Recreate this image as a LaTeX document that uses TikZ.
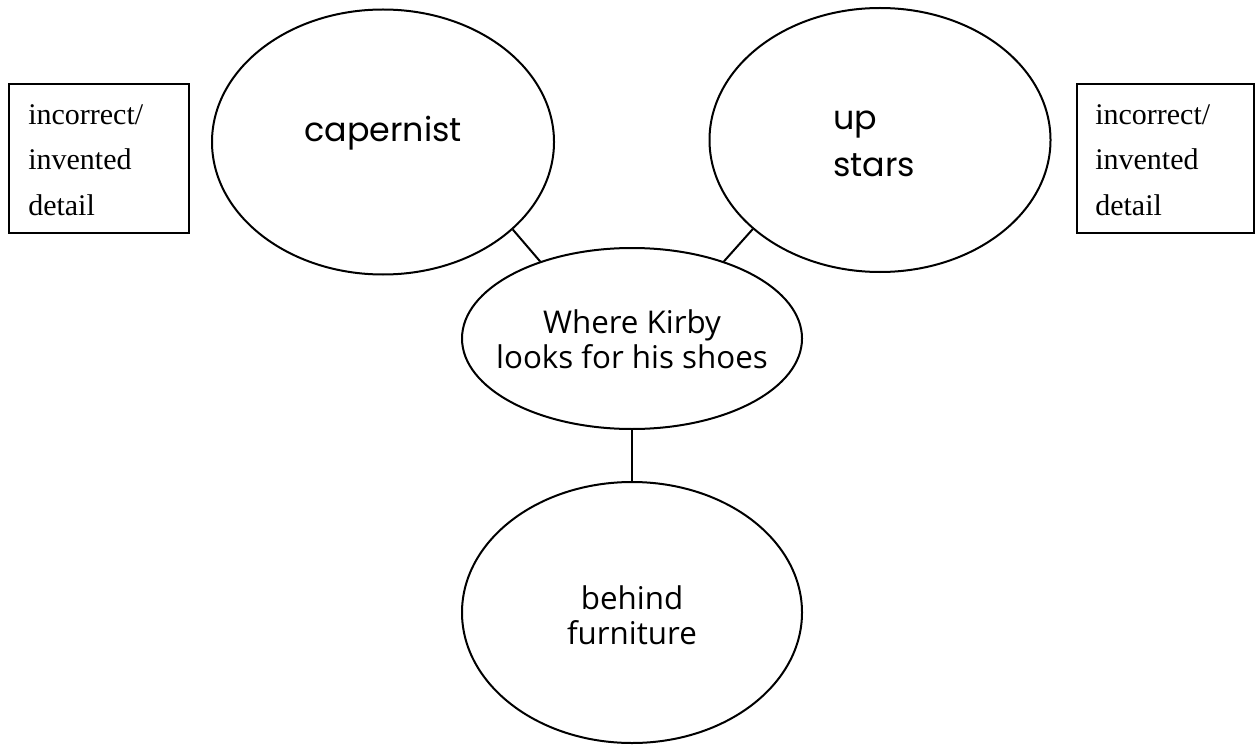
\documentclass[tikz,border=0pt]{standalone}
\usepackage{fontspec}
\setmainfont{Liberation Serif}
\newfontfamily\handfont{Poppins}
\newfontfamily\labelfont{Open Sans}
\usetikzlibrary{shapes.geometric}
\tikzset{
  bubble/.style={draw, line width=1.5pt, ellipse, inner sep=0pt},
  notebox/.style={draw, line width=1.8pt, rectangle, inner sep=0pt},
  link/.style={line width=1.5pt},
  notetext/.style={font=\fontsize{22.5}{33.75}\selectfont, align=left, anchor=base west, inner sep=0pt},
  handtext/.style={font=\handfont\fontsize{25}{35.25}\selectfont, inner sep=0pt},
  sanstext/.style={font=\labelfont\fontsize{23.5}{26.25}\selectfont, align=center, anchor=base, inner sep=0pt},
}
\begin{document}
\begin{tikzpicture}[x=0.75pt,y=-0.75pt]
\useasboundingbox (0,0) rectangle (1255,745);
% boxes
\node[notebox, minimum width=135pt, minimum height=111.75pt] (lbox) at (99,158.5) {};
\node[notebox, minimum width=132.75pt, minimum height=111.75pt] (rbox) at (1165.5,158.5) {};
% base anchor of a multi-line node = baseline of its last line
\node[notetext] (ltext) at (28,215) {incorrect/\\invented\\detail};
\node[notetext] (rtext) at (1095,215) {incorrect/\\invented\\detail};
% ellipses
\node[bubble, minimum width=256.5pt, minimum height=198.75pt] (cap) at (383,142) {};
\node[bubble, minimum width=255.75pt, minimum height=198pt] (ups) at (880,140) {};
\node[bubble, minimum width=255pt, minimum height=135.75pt] (mid) at (632,338.5) {};
\node[bubble, minimum width=255pt, minimum height=195.75pt] (bot) at (632,612.5) {};
% texts
\node[handtext, anchor=base] (captext) at (383,142) {capernist};
\node[handtext, anchor=base west, align=left] (upstext) at (833,177) {up\\stars};
\node[sanstext] (midtext) at (632,368) {Where Kirby\\looks for his shoes};
\node[sanstext] (bottext) at (632,644) {behind\\furniture};
% connectors
\draw[link] (cap.-34) -- (mid.140);
\draw[link] (ups.-145) -- (mid.40);
\draw[link] (mid.south) -- (bot.north);
\end{tikzpicture}
\end{document}
